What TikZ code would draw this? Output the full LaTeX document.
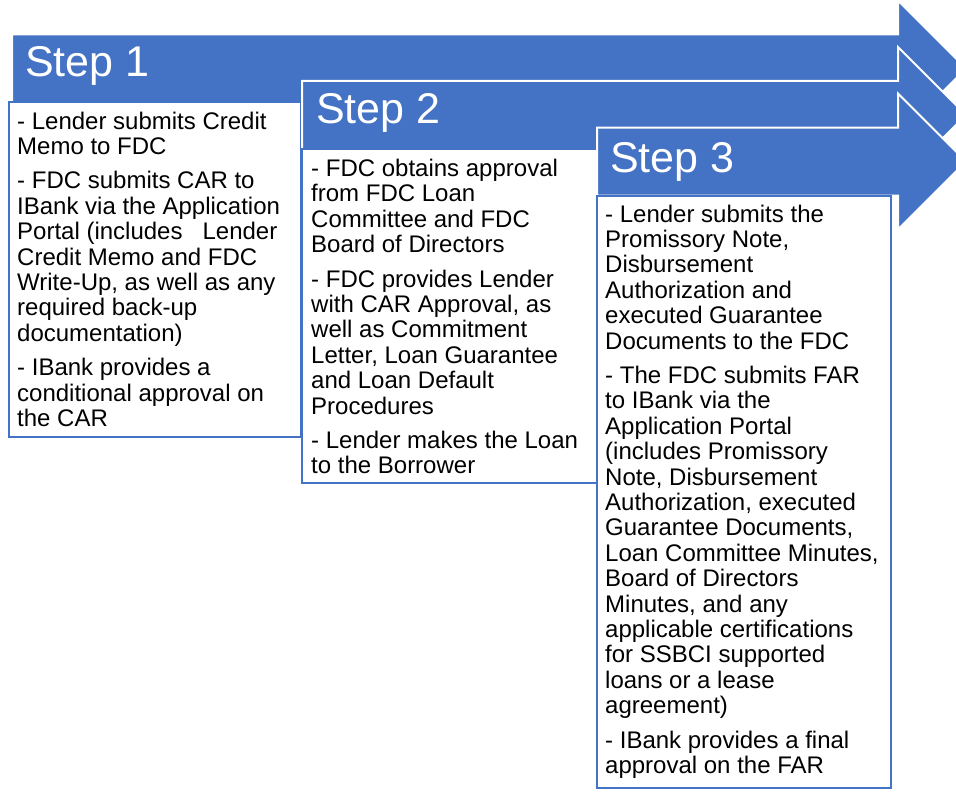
\documentclass[tikz,border=0pt]{standalone}
\usepackage{fontspec}
\setmainfont{Liberation Sans}
\definecolor{stepblue}{HTML}{4472C4}
\tikzset{
  steparrow/.style={fill=stepblue, draw=white, line width=2pt, line join=miter},
  stepbox/.style={fill=white, draw=stepblue, line width=2pt},
  steplabel/.style={anchor=base west, inner sep=0pt, text=white, font=\fontsize{43}{43}\selectfont},
  stepbody/.style={anchor=base west, inner sep=0pt, text=black, font=\fontsize{24}{25.4}\selectfont},
}
\newcommand{\stepbodytext}[2]{\parbox[t]{#1}{\raggedright\setlength{\parskip}{9pt}#2}}
\newcommand{\steparrowshape}[2]{%
  \draw[steparrow] (#1,#2-34) -- (898,#2-34) -- (898,#2-68) -- (966,#2)
    -- (898,#2+68) -- (898,#2+34) -- (#1,#2+34) -- cycle;}
\begin{document}
\begin{tikzpicture}[x=1pt,y=-1pt]
\useasboundingbox (0,0) rectangle (956,792);
\clip (0,0) rectangle (956,792);
% Step 1
\steparrowshape{12}{68.5}
\node[steplabel] (s1) at (25,77) {Step 1};
\draw[stepbox] (9,102) rectangle (301,437);
\node[stepbody] (b1) at (17,129) {\stepbodytext{285pt}{%
- Lender submits Credit\\
Memo to FDC\par
- FDC submits CAR to\\
IBank via the Application\\
Portal (includes\ \ \ Lender\\
Credit Memo and FDC\\
Write-Up, as well as any\\
required back-up\\
documentation)\par
- IBank provides a\\
conditional approval on\\
the CAR}};
% Step 2
\steparrowshape{302}{115}
\node[steplabel] (s2) at (316,123) {Step 2};
\draw[stepbox] (302,149) rectangle (597,483);
\node[stepbody] (b2) at (311,176.5) {\stepbodytext{285pt}{%
- FDC obtains approval\\
from FDC Loan\\
Committee and FDC\\
Board of Directors\par
- FDC provides Lender\\
with CAR Approval, as\\
well as Commitment\\
Letter, Loan Guarantee\\
and Loan Default\\
Procedures\par
- Lender makes the Loan\\
to the Borrower}};
% Step 3
\steparrowshape{597}{161.5}
\node[steplabel] (s3) at (610,172) {Step 3};
\draw[stepbox] (597,196) rectangle (891,788);
\node[stepbody] (b3) at (605,222) {\stepbodytext{285pt}{%
- Lender submits the\\
Promissory Note,\\
Disbursement\\
Authorization and\\
executed Guarantee\\
Documents to the FDC\par
- The FDC submits FAR\\
to IBank via the\\
Application Portal\\
(includes Promissory\\
Note, Disbursement\\
Authorization, executed\\
Guarantee Documents,\\
Loan Committee Minutes,\\
Board of Directors\\
Minutes, and any\\
applicable certifications\\
for SSBCI supported\\
loans or a lease\\
agreement)\par
- IBank provides a final\\
approval on the FAR}};
\end{tikzpicture}
\end{document}
